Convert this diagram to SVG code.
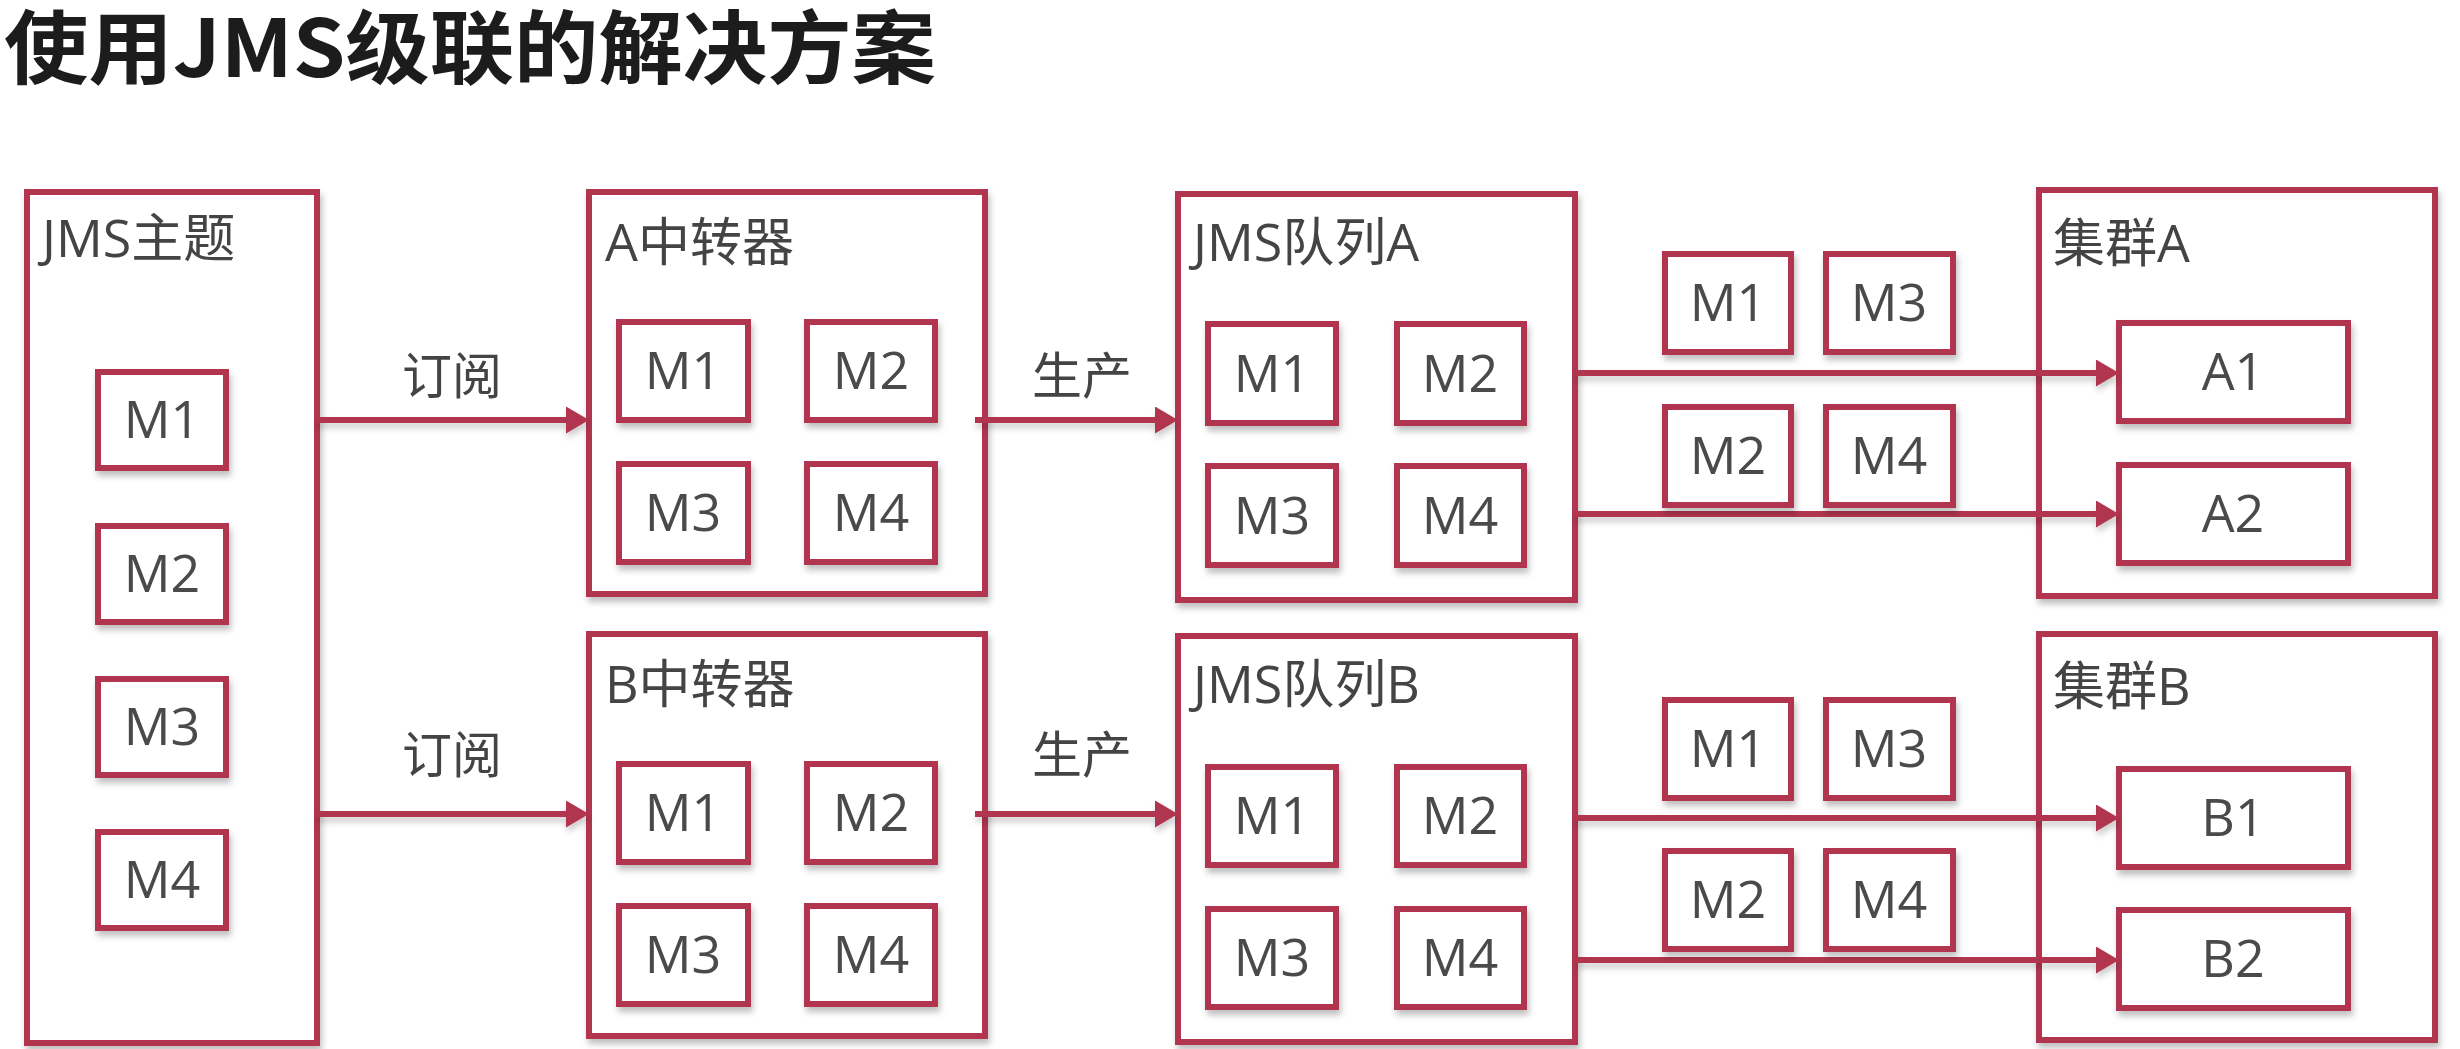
<svg xmlns="http://www.w3.org/2000/svg" width="2460" height="1049" viewBox="0 0 2460 1049">
<defs>
<filter id="sh" x="-10%" y="-10%" width="130%" height="140%">
<feDropShadow dx="2" dy="5" stdDeviation="3" flood-color="#000" flood-opacity="0.25"/>
</filter>
<filter id="lsh" filterUnits="userSpaceOnUse" x="0" y="0" width="2460" height="1049">
<feDropShadow dx="1" dy="5" stdDeviation="3" flood-color="#000" flood-opacity="0.2"/>
</filter>
<marker id="ah" markerUnits="userSpaceOnUse" markerWidth="24" markerHeight="28" refX="9" refY="13.5" orient="auto">
<path d="M0,0 L23,13.5 L0,27 Z" fill="#b1344f"/>
</marker>
</defs>
<style>
.outer{fill:#fff;stroke:#b1344f;stroke-width:6;filter:url(#sh)}
.inner{fill:#fff;stroke:#b1344f;stroke-width:6;filter:url(#sh)}
.lbl{font-family:"Open Sans","Noto Sans CJK SC",sans-serif;font-size:52px;fill:#444}
.mt{font-family:"Open Sans","Noto Sans CJK SC",sans-serif;font-size:52px;fill:#4a4a4a;text-anchor:middle}
.edge{stroke:#b1344f;stroke-width:6;fill:none;marker-end:url(#ah)}
.el{font-family:"Open Sans","Noto Sans CJK SC",sans-serif;font-size:50px;fill:#444;text-anchor:middle}
.title{font-family:"Noto Sans CJK SC",sans-serif;font-size:80px;font-weight:bold;fill:#1c1c1c}
</style>
<rect x="0" y="0" width="2460" height="1049" fill="#fff"/>
<text class="title" x="4" y="77" textLength="932" lengthAdjust="spacingAndGlyphs">使用JMS级联的解决方案</text>

<g id="jms-topic">
<rect class="outer" x="27" y="192" width="290" height="851"/>
<text class="lbl" x="42" y="257">JMS主题</text>
<rect class="inner" x="98" y="372" width="128" height="96"/><text class="mt" x="162" y="438">M1</text>
<rect class="inner" x="98" y="526" width="128" height="96"/><text class="mt" x="162" y="592">M2</text>
<rect class="inner" x="98" y="679" width="128" height="96"/><text class="mt" x="162" y="745">M3</text>
<rect class="inner" x="98" y="832" width="128" height="96"/><text class="mt" x="162" y="898">M4</text>
</g>

<g id="relay-a">
<rect class="outer" x="589" y="192" width="396" height="402"/>
<text class="lbl" x="605" y="261">A中转器</text>
<rect class="inner" x="619" y="322" width="129" height="98"/><text class="mt" x="683" y="389">M1</text>
<rect class="inner" x="807" y="322" width="128" height="98"/><text class="mt" x="871" y="389">M2</text>
<rect class="inner" x="619" y="464" width="129" height="98"/><text class="mt" x="683" y="531">M3</text>
<rect class="inner" x="807" y="464" width="128" height="98"/><text class="mt" x="871" y="531">M4</text>
</g>

<g id="queue-a">
<rect class="outer" x="1178" y="194" width="397" height="406"/>
<text class="lbl" x="1193" y="261">JMS队列A</text>
<rect class="inner" x="1208" y="324" width="128" height="99"/><text class="mt" x="1272" y="392">M1</text>
<rect class="inner" x="1397" y="324" width="127" height="99"/><text class="mt" x="1460" y="392">M2</text>
<rect class="inner" x="1208" y="466" width="128" height="99"/><text class="mt" x="1272" y="534">M3</text>
<rect class="inner" x="1397" y="466" width="127" height="99"/><text class="mt" x="1460" y="534">M4</text>
</g>

<g id="cluster-a">
<rect class="outer" x="2039" y="190" width="396" height="406"/>
<text class="lbl" x="2053" y="262">集群A</text>
<rect class="inner" x="2119" y="323" width="229" height="98"/><text class="mt" x="2233" y="390">A1</text>
<rect class="inner" x="2119" y="465" width="229" height="98"/><text class="mt" x="2233" y="532">A2</text>
</g>

<g id="relay-b">
<rect class="outer" x="589" y="634" width="396" height="402"/>
<text class="lbl" x="605" y="703">B中转器</text>
<rect class="inner" x="619" y="764" width="129" height="98"/><text class="mt" x="683" y="831">M1</text>
<rect class="inner" x="807" y="764" width="128" height="98"/><text class="mt" x="871" y="831">M2</text>
<rect class="inner" x="619" y="906" width="129" height="98"/><text class="mt" x="683" y="973">M3</text>
<rect class="inner" x="807" y="906" width="128" height="98"/><text class="mt" x="871" y="973">M4</text>
</g>

<g id="queue-b">
<rect class="outer" x="1178" y="636" width="397" height="406"/>
<text class="lbl" x="1193" y="703">JMS队列B</text>
<rect class="inner" x="1208" y="767" width="128" height="98"/><text class="mt" x="1272" y="834">M1</text>
<rect class="inner" x="1397" y="767" width="127" height="98"/><text class="mt" x="1460" y="834">M2</text>
<rect class="inner" x="1208" y="909" width="128" height="98"/><text class="mt" x="1272" y="976">M3</text>
<rect class="inner" x="1397" y="909" width="127" height="98"/><text class="mt" x="1460" y="976">M4</text>
</g>

<g id="cluster-b">
<rect class="outer" x="2039" y="634" width="396" height="406"/>
<text class="lbl" x="2053" y="705">集群B</text>
<rect class="inner" x="2119" y="769" width="229" height="98"/><text class="mt" x="2233" y="836">B1</text>
<rect class="inner" x="2119" y="910" width="229" height="98"/><text class="mt" x="2233" y="977">B2</text>
</g>

<g id="connectors" filter="url(#lsh)">
<line class="edge" x1="316" y1="420" x2="575" y2="420"/>
<line class="edge" x1="975" y1="420" x2="1164" y2="420"/>
<line class="edge" x1="1575" y1="373" x2="2105" y2="373"/>
<line class="edge" x1="1575" y1="514" x2="2105" y2="514"/>
<line class="edge" x1="316" y1="814" x2="575" y2="814"/>
<line class="edge" x1="975" y1="814" x2="1164" y2="814"/>
<line class="edge" x1="1575" y1="818" x2="2105" y2="818"/>
<line class="edge" x1="1575" y1="960" x2="2105" y2="960"/>
</g>
<g id="connector-labels">
<text class="el" x="452" y="394">订阅</text>
<text class="el" x="1082" y="394">生产</text>
<text class="el" x="452" y="773">订阅</text>
<text class="el" x="1082" y="773">生产</text>
</g>

<g id="flow-a">
<rect class="inner" x="1665" y="254" width="126" height="98"/><text class="mt" x="1728" y="321">M1</text>
<rect class="inner" x="1826" y="254" width="127" height="98"/><text class="mt" x="1889" y="321">M3</text>
<rect class="inner" x="1665" y="407" width="126" height="98"/><text class="mt" x="1728" y="474">M2</text>
<rect class="inner" x="1826" y="407" width="127" height="98"/><text class="mt" x="1889" y="474">M4</text>
</g>

<g id="flow-b">
<rect class="inner" x="1665" y="700" width="126" height="98"/><text class="mt" x="1728" y="767">M1</text>
<rect class="inner" x="1826" y="700" width="127" height="98"/><text class="mt" x="1889" y="767">M3</text>
<rect class="inner" x="1665" y="851" width="126" height="98"/><text class="mt" x="1728" y="918">M2</text>
<rect class="inner" x="1826" y="851" width="127" height="98"/><text class="mt" x="1889" y="918">M4</text>
</g>
</svg>
